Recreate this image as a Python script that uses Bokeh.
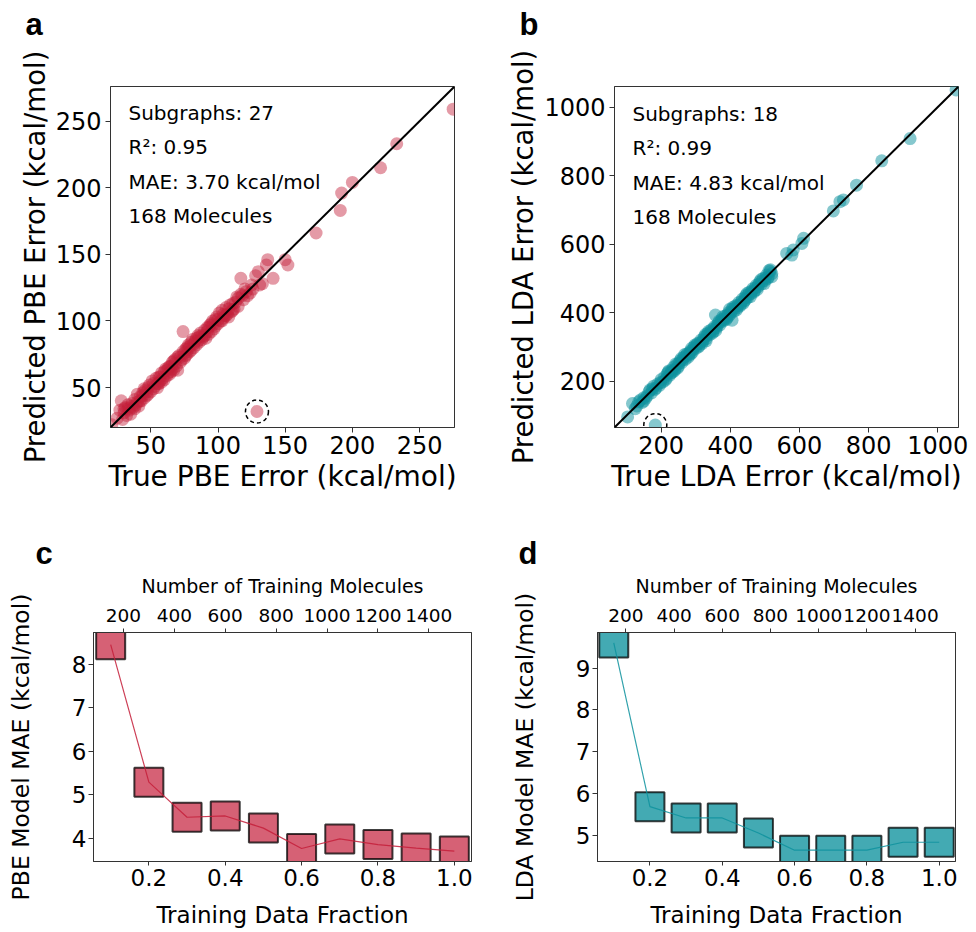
from bokeh.plotting import figure
from bokeh.models import (Range1d, LinearAxis, Label, Slope, SingleIntervalTicker,
                          FixedTicker, NumeralTickFormatter, Title)
from bokeh.layouts import column, row
from bokeh.embed import file_html
from bokeh.resources import INLINE

FONT = "DejaVu Sans"
PBE_COLOR = "#C41E3A"
LDA_COLOR = "#0E929E"
AX = "#333333"

# ---------------- data ----------------
pbe_true = [21,25,27,28,29,30,31,32,33,34,35,36,37,38,38,39,40,40,41,42,43,
            44,45,46,47,48,48,49,50,51,52,53,54,55,55,56,57,58,58,59,60,60,
            61,62,63,64,65,66,66,67,68,69,70,70,71,72,73,74,74,75,76,76,77,78,79,80,80,
            81,82,83,84,85,86,87,88,89,90,90,91,92,93,94,95,96,97,98,99,100,
            101,102,103,104,105,106,107,108,110,111,112,114,115,117,119,120,122,125,
            33,36,44,47,52,57,62,65,68,72,75,78,82,85,88,92,96,100,104,108,
            113,118,45,63,84,98,109,115,121,30,42,56,67,77,93,103,106,111,126,86,
            64,79,95,
            275,233,221,200,192,191,173,150,152,137,136,141,130,131,117,124,128,133]
pbe_pred = [22,27,33,40,26,31,35,29,37,33,30,38,35,41,34,37,45,39,36,43,40,
            46,42,48,44,50,45,52,47,55,49,51,57,53,50,58,55,61,54,57,62,56,
            64,59,61,66,62,69,64,63,71,66,73,63,74,69,71,92,77,72,79,74,75,82,77,78,84,
            86,80,85,82,89,84,91,86,88,93,89,87,95,90,97,92,100,94,96,103,98,
            106,100,108,102,104,110,105,103,107,113,109,118,111,120,116,124,119,127,
            34,36,44,47,53,58,63,66,68,73,76,79,83,85,89,92,97,101,105,109,
            114,119,49,65,87,101,112,117,122,34,40,53,70,80,95,100,104,108,124,88,
            60,81,98,
            259,233,215,204,196,183,166,146,142,146,142,132,137,127,132,121,134,128]
pbe_out_x = [129]
pbe_out_y = [32]

lda_true = [103,117,125,135,145,150,160,165,172,178,
            185,190,195,200,205,210,215,220,225,230,
            235,240,245,250,255,260,265,270,275,280,
            285,290,295,300,305,310,315,320,325,330,
            335,340,345,350,355,357,360,365,370,375,
            380,385,390,395,400,405,405,410,415,420,
            425,430,435,440,445,450,455,460,465,470,
            475,480,485,490,495,500,505,510,515,520,
            563,578,582,607,612,698,717,727,765,838,
            920,1053,
            212,222,232,242,252,262,272,282,292,302,
            312,322,332,342,352,362,372,382,392,402,
            412,422,432,442,452,462,472,482,492,502,
            247,268,288,308,328,348,368,388,408,428,
            448,468,488,508,512,498,478,458,438,418,
            398,378,358,338,318,298,278,258,238,218,
            198,182,168,155,140,130,520,516,395,330,
            150,175,228,286,444]
lda_pred = [96,135,120,140,138,152,158,170,166,185,
            180,192,188,205,198,212,208,226,218,232,
            240,235,248,244,260,255,270,264,280,276,
            288,284,300,296,310,304,320,316,330,324,
            340,336,350,344,360,393,356,370,364,380,
            376,390,384,400,396,378,410,404,420,414,
            430,424,440,434,450,444,460,456,470,464,
            480,476,490,484,500,494,510,504,520,514,
            573,568,583,602,617,697,724,729,772,843,
            908,1050,
            203,230,226,250,253,262,275,283,292,305,
            312,322,333,343,353,362,373,382,393,402,
            413,422,432,443,452,463,472,483,492,502,
            238,278,296,300,336,340,376,380,416,420,
            456,460,496,500,523,485,468,447,428,408,
            410,388,348,346,310,306,270,266,230,222,
            196,176,175,150,145,128,505,525,390,318,
            142,178,224,280,438]
lda_out_x = [183]
lda_out_y = [72]

pbe_stats = ["Subgraphs: 27", "R\u00b2: 0.95", "MAE: 3.70 kcal/mol", "168 Molecules"]
lda_stats = ["Subgraphs: 18", "R\u00b2: 0.99", "MAE: 4.83 kcal/mol", "168 Molecules"]

fraction = [0.1, 0.2, 0.3, 0.4, 0.5, 0.6, 0.7, 0.8, 0.9, 1.0]
pbe_mae = [8.46, 5.29, 4.48, 4.51, 4.23, 3.76, 3.98, 3.85, 3.77, 3.70]
lda_mae = [9.60, 5.69, 5.42, 5.42, 5.06, 4.65, 4.65, 4.65, 4.84, 4.84]
fraction_ticks = [0.2, 0.4, 0.6, 0.8, 1.0]
n_train_full = 1500

HAS_STANDOFF = "standoff" in Title.properties()
LETTER_FONT = "Liberation Sans"
LETTER_SIZE = "31px"


def style_axis(ax, label_size, tick_size, tick_out=5, lstand=3, astand=3):
    ax.axis_label_text_font = FONT
    ax.axis_label_text_font_style = "normal"
    ax.axis_label_text_font_size = label_size
    ax.axis_label_text_color = "black"
    ax.major_label_text_font = FONT
    ax.major_label_text_font_size = tick_size
    ax.major_label_text_color = "black"
    ax.major_tick_out = tick_out
    ax.major_tick_in = 0
    ax.minor_tick_line_color = None
    ax.axis_line_color = AX
    ax.major_tick_line_color = AX
    ax.major_label_standoff = lstand
    ax.axis_label_standoff = astand


def base_fig(W, H, bl, br, bt, bb, xr, yr):
    p = figure(width=W, height=H, x_range=xr, y_range=yr, output_backend="svg",
               toolbar_location=None, min_border_left=bl, min_border_right=br,
               min_border_top=bt, min_border_bottom=bb)
    p.grid.visible = False
    p.outline_line_color = AX
    p.outline_line_width = 1
    p.outline_line_alpha = 1
    return p


def letter_title(p, txt, dx, standoff):
    p.title.text = txt
    p.title.align = "left"
    p.title.offset = dx
    p.title.text_font = LETTER_FONT
    p.title.text_font_style = "bold"
    p.title.text_font_size = LETTER_SIZE
    p.title.text_color = "black"
    if HAS_STANDOFF:
        p.title.standoff = standoff


def letter_strip(W, H, letters):
    s = figure(width=W, height=H, x_range=Range1d(0, W), y_range=Range1d(0, H),
               output_backend="svg", toolbar_location=None, min_border=0)
    s.axis.visible = False
    s.grid.visible = False
    s.outline_line_color = None
    for txt, lx, mid in letters:
        s.add_layout(Label(x=lx, y=H - mid, x_units="screen", y_units="screen", text=txt,
                           text_font=LETTER_FONT, text_font_style="bold",
                           text_font_size=LETTER_SIZE, text_color="black",
                           text_baseline="middle"))
    return s


def scatter_panel(xs, ys, ox, oy, lo, hi, interval, color, alpha, xlabel, ylabel,
                  stats, W, bl, br, fh):
    H = 450
    bt = 36
    p = base_fig(W, H, bl, br, bt, H - bt - fh, Range1d(lo, hi), Range1d(lo, hi))
    p.scatter(xs, ys, size=13, fill_color=color, fill_alpha=alpha, line_color=None)
    p.scatter(ox, oy, size=13, fill_color=color, fill_alpha=alpha, line_color=None)
    p.scatter(ox, oy, size=23, fill_color=None, line_color="black",
              line_dash="4 3", line_width=1.5)
    p.add_layout(Slope(gradient=1, y_intercept=0, line_color="black", line_width=2))
    p.xaxis.axis_label = xlabel
    p.yaxis.axis_label = ylabel
    p.xaxis.ticker = SingleIntervalTicker(interval=interval, num_minor_ticks=0)
    p.yaxis.ticker = SingleIntervalTicker(interval=interval, num_minor_ticks=0)
    style_axis(p.xaxis[0], "28px", "24px", 5, 3, 3)
    style_axis(p.yaxis[0], "27.5px", "24px", 5, 4, 2)
    for i, s in enumerate(stats):
        p.add_layout(Label(x=18, y=fh - 27 - 34.5 * i, x_units="screen", y_units="screen",
                           text=s, text_font=FONT, text_font_size="20px",
                           text_color="black", text_baseline="middle"))
    return p


def mae_panel(mae, y_lo, y_hi, color, alpha, ylabel, W, bl, br, let, let_dx):
    H = 430
    bt = 132
    fh = 231
    x_lo, x_hi = 0.055, 1.045
    p = base_fig(W, H, bl, br, bt, H - bt - fh, Range1d(x_lo, x_hi), Range1d(y_lo, y_hi))
    p.extra_x_ranges = {"mol": Range1d(x_lo * n_train_full, x_hi * n_train_full)}
    p.scatter(fraction, mae, marker="square", size=29, fill_color=color,
              fill_alpha=alpha, line_color="black", line_alpha=0.75, line_width=2)
    p.line(fraction, mae, line_color=color, line_width=1.2, line_alpha=0.85)
    top = LinearAxis(x_range_name="mol", axis_label="Number of Training Molecules",
                     ticker=SingleIntervalTicker(interval=200, num_minor_ticks=0))
    p.add_layout(top, "above")
    style_axis(top, "19px", "18.5px", 4, 7, 9)
    bottom = p.below[0]
    bottom.axis_label = "Training Data Fraction"
    bottom.ticker = FixedTicker(ticks=fraction_ticks)
    bottom.formatter = NumeralTickFormatter(format="0.0")
    style_axis(bottom, "23px", "23px", 4, 3, 13)
    p.yaxis.axis_label = ylabel
    p.yaxis.ticker = SingleIntervalTicker(interval=1, num_minor_ticks=0)
    style_axis(p.yaxis[0], "23.5px", "23px", 5, 2, 34)
    letter_title(p, let, let_dx, 2)
    return p


strip = letter_strip(968, 50, [("a", 25, 24), ("b", 519, 24)])
pa = scatter_panel(pbe_true, pbe_pred, pbe_out_x, pbe_out_y, 20, 276, 50, PBE_COLOR, 0.45,
                   "True PBE Error (kcal/mol)", "Predicted PBE Error (kcal/mol)",
                   pbe_stats, 488, 110, 34, 342)
pb = scatter_panel(lda_true, lda_pred, lda_out_x, lda_out_y, 65, 1060, 200, LDA_COLOR, 0.5,
                   "True LDA Error (kcal/mol)", "Predicted LDA Error (kcal/mol)",
                   lda_stats, 480, 126, 10, 341)
pc = mae_panel(pbe_mae, 3.46, 8.74, PBE_COLOR, 0.7, "PBE Model MAE (kcal/mol)",
               488, 93, 17, "c", -58)
pd = mae_panel(lda_mae, 4.38, 9.85, LDA_COLOR, 0.78, "LDA Model MAE (kcal/mol)",
               480, 109, 13, "d", -79)

layout = column(strip, row(pa, pb), row(pc, pd))
open("out.html", "w").write(file_html(layout, INLINE))
